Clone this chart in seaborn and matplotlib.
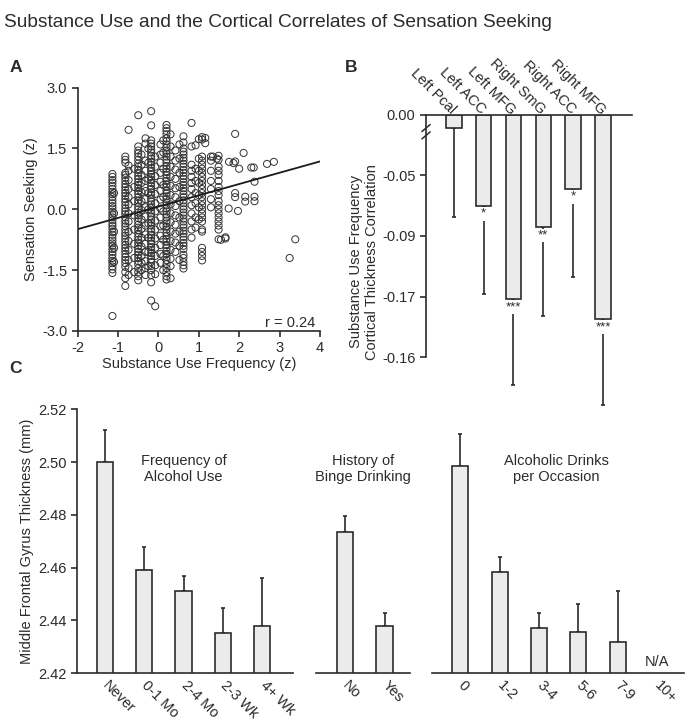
import matplotlib
matplotlib.use("Agg")
import matplotlib.pyplot as plt
import numpy as np
import pandas as pd
import seaborn as sns

sns.set_style("ticks")
plt.rcParams['font.family'] = ['Liberation Sans', 'DejaVu Sans']
ink = '#2b2b2b'
plt.rcParams.update({
    'axes.edgecolor': ink, 'axes.linewidth': 1.2, 'xtick.color': ink, 'ytick.color': ink,
    'text.color': ink, 'axes.labelcolor': ink, 'font.size': 10.5,
    'xtick.labelsize': 10.5, 'ytick.labelsize': 10.5, 'axes.labelsize': 10.5,
    'xtick.major.width': 1.2, 'ytick.major.width': 1.2,
    'xtick.major.size': 4, 'ytick.major.size': 4,
    'axes.unicode_minus': False,
})
bar_fill = '#ebebeb'

# ---- panel A: scatter columns (x value, y values) ----
col_x = [-1.14, -1.10, -0.82, -0.74, -0.50, -0.42, -0.32, -0.18, -0.08, 0.05,
         0.20, 0.30, 0.42, 0.62, 0.82, 0.92, 1.00, 1.08, 1.30, 1.49,
         -0.60, -0.25, 0.12, 0.52]
col_y = [
    [0.87, 0.8, 0.72, 0.66, 0.58, 0.5, 0.43, 0.37, 0.3, 0.22, 0.15, 0.08, 0.02, -0.06, -0.13, -0.2,
     -0.27, -0.35, -0.41, -0.48, -0.56, -0.63, -0.7, -0.77, -0.84, -0.9, -0.98, -1.05, -1.12, -1.2,
     -1.27, -1.33, -1.41, -1.48, -1.57, -2.63],
    [0.4, -0.1, -0.55, -0.95, -1.3],
    [1.3, 1.22, 1.15, 0.9, 0.85, 0.78, 0.7, 0.62, 0.55, 0.47, 0.4, 0.33, 0.25, 0.18, 0.1, 0.02,
     -0.05, -0.12, -0.2, -0.28, -0.35, -0.42, -0.5, -0.58, -0.65, -0.72, -0.8, -0.88, -0.95, -1.02,
     -1.1, -1.18, -1.25, -1.33, -1.42, -1.55, -1.7, -1.89],
    [1.96, 1.08, 0.95, 0.72, 0.5, 0.3, 0.12, -0.1, -0.3, -0.55, -0.78, -1.0, -1.25, -1.45, -1.62],
    [2.32, 1.55, 1.45, 1.38, 1.3, 1.22, 1.13, 1.05, 0.97, 0.9, 0.82, 0.75, 0.67, 0.6, 0.52, 0.45,
     0.38, 0.3, 0.22, 0.15, 0.07, 0.0, -0.08, -0.15, -0.22, -0.3, -0.38, -0.45, -0.52, -0.6, -0.68,
     -0.75, -0.82, -0.9, -0.98, -1.05, -1.12, -1.2, -1.28, -1.35, -1.45, -1.55, -1.65, -1.75],
    [1.35, 1.1, 0.85, 0.65, 0.42, 0.2, -0.02, -0.25, -0.48, -0.7, -0.92, -1.15, -1.32, -1.5],
    [1.75, 1.62, 1.2, 0.95, 0.7, 0.45, 0.25, 0.05, -0.18, -0.4, -0.62, -0.85, -1.05, -1.28, -1.45, -1.62],
    [2.42, 2.07, 1.7, 1.62, 1.55, 1.47, 1.4, 1.32, 1.25, 1.17, 1.1, 1.02, 0.95, 0.87, 0.8, 0.72,
     0.65, 0.57, 0.5, 0.42, 0.35, 0.27, 0.2, 0.12, 0.05, -0.03, -0.1, -0.18, -0.25, -0.33, -0.4,
     -0.48, -0.55, -0.63, -0.7, -0.78, -0.85, -0.93, -1.0, -1.08, -1.15, -1.23, -1.3, -1.4, -1.5,
     -1.62, -1.8, -2.25],
    [1.3, 1.05, 0.82, 0.6, 0.38, 0.15, -0.05, -0.28, -0.5, -0.72, -0.95, -1.15, -1.38, -1.6, -2.39],
    [1.6, 1.35, 1.15, 0.9, 0.68, 0.46, 0.24, 0.02, -0.2, -0.42, -0.65, -0.88, -1.1, -1.32],
    [2.08, 2.0, 1.93, 1.85, 1.75, 1.68, 1.6, 1.52, 1.45, 1.37, 1.3, 1.22, 1.15, 1.07, 1.0, 0.92,
     0.85, 0.77, 0.7, 0.62, 0.55, 0.47, 0.4, 0.32, 0.25, 0.17, 0.1, 0.02, -0.05, -0.13, -0.2, -0.28,
     -0.35, -0.43, -0.5, -0.58, -0.65, -0.73, -0.8, -0.88, -0.95, -1.03, -1.1, -1.18, -1.25, -1.35,
     -1.45, -1.55, -1.65, -1.73],
    [1.85, 1.55, 1.3, 1.05, 0.8, 0.58, 0.35, 0.12, -0.1, -0.32, -0.55, -0.78, -1.0, -1.22, -1.4, -1.7],
    [1.45, 1.2, 0.98, 0.75, 0.52, 0.3, 0.08, -0.15, -0.38, -0.6, -0.82, -1.05],
    [1.8, 1.65, 1.5, 1.42, 1.35, 1.27, 1.2, 1.12, 1.05, 0.97, 0.9, 0.82, 0.75, 0.67, 0.6, 0.52,
     0.45, 0.37, 0.3, 0.22, 0.15, 0.07, 0.0, -0.08, -0.15, -0.23, -0.3, -0.38, -0.45, -0.53, -0.6,
     -0.68, -0.75, -0.83, -0.9, -0.98, -1.12, -1.2, -1.3, -1.38, -1.46],
    [2.13, 1.55, 1.1, 0.95, 0.8, 0.65, 0.5, 0.3, 0.1, -0.1, -0.3, -0.5, -0.7],
    [1.58, 1.0, 0.7, 0.4, 0.15, -0.2, -0.45],
    [1.73, 1.25, 0.95, 0.65, 0.35, 0.05, -0.25],
    [1.78, 1.72, 1.3, 1.2, 1.1, 1.0, 0.9, 0.8, 0.7, 0.6, 0.5, 0.4, 0.3, 0.2, 0.1, 0.0, -0.1, -0.2,
     -0.3, -0.5, -0.55, -0.95, -1.05, -1.15, -1.26],
    [1.3, 1.2, 0.95, 0.7, 0.5, 0.25, 0.05],
    [1.32, 1.22, 1.05, 0.95, 0.85, 0.7, 0.55, 0.45, 0.35, 0.2, 0.1, 0.0, -0.1, -0.2, -0.3, -0.4,
     -0.5, -0.74],
    [1.0, 0.55, 0.2, -0.15, -0.5, -0.85, -1.2, -1.55],
    [1.5, 1.15, 0.75, 0.4, 0.0, -0.35, -0.7, -1.05, -1.4],
    [1.7, 1.4, 1.0, 0.6, 0.3, -0.05, -0.4, -0.75, -1.15, -1.5],
    [1.6, 1.25, 0.9, 0.55, 0.2, -0.2, -0.55, -0.9, -1.25],
]
extra_x = [1.66, 1.74, 1.97, 1.90, 1.86, 1.90, 1.90, 2.11, 2.00, 2.36, 2.15, 2.15, 2.38, 2.38,
           2.38, 2.30, 2.69, 2.86, 3.39, 3.25, 1.55, 1.66, 1.75, 1.90, 1.35, 1.45, 1.16, 1.16]
extra_y = [-0.69, 0.02, -0.04, 1.86, 1.14, 0.40, 0.30, 1.39, 1.00, 1.03, 0.31, 0.19, 0.68, 0.31,
           0.20, 1.03, 1.12, 1.17, -0.74, -1.20, -0.75, -0.72, 1.17, 1.18, 1.30, 1.25, 1.76, 1.63]
fit_x = [-2.0, 4.0]
fit_y = [-0.49, 1.18]
r_text = "r = 0.24"

# ---- panel B ----
b_regions = ["Left Pcal", "Left ACC", "Left MFG", "Right SmG", "Right ACC", "Right MFG"]
b_vals = [-0.21, -1.50, -3.04, -1.86, -1.22, -3.37]     # in axis units (tick spacing = 1)
b_err = [1.47, 1.46, 1.42, 1.46, 1.46, 1.42]
b_stars = ["", "*", "***", "**", "*", "***"]
b_ticks = [0, -1, -2, -3, -4]
b_ticklabels = ["0.00", "-0.05", "-0.09", "-0.17", "-0.16"]

# ---- panel C ----
freq_cats = ["Never", "0-1 Mo", "2-4 Mo", "2-3 Wk", "4+ Wk"]
freq_vals = [2.500, 2.459, 2.451, 2.4353, 2.438]
freq_err = [0.012, 0.009, 0.006, 0.0096, 0.018]
binge_cats = ["No", "Yes"]
binge_vals = [2.4734, 2.438]
binge_err = [0.0061, 0.0048]
drinks_cats = ["0", "1-2", "3-4", "5-6", "7-9", "10+"]
drinks_vals = [2.4985, 2.4583, 2.437, 2.4358, 2.432, np.nan]
drinks_err = [0.012, 0.0059, 0.006, 0.0104, 0.0192, np.nan]

fig = plt.figure(figsize=(7.0, 7.22), dpi=100)

# ================= A =================
axA = fig.add_axes([0.111, 0.5416, 0.346, 0.337])
xs, ys = [], []
for cx, cy in zip(col_x, col_y):
    xs += [cx] * len(cy)
    ys += cy
xs += extra_x
ys += extra_y
dfA = pd.DataFrame({'x': xs, 'y': ys})
sns.scatterplot(data=dfA, x='x', y='y', ax=axA, s=26, facecolor='none',
                edgecolor='#333333', linewidth=0.7, zorder=3)
sns.lineplot(x=fit_x, y=fit_y, ax=axA, color='#1a1a1a', linewidth=1.3, zorder=4)
axA.set_xlim(-2, 4)
axA.set_ylim(-3, 3)
axA.set_xticks([-2, -1, 0, 1, 2, 3, 4])
axA.set_yticks([3.0, 1.5, 0.0, -1.5, -3.0])
axA.set_yticklabels(["3.0", "1.5", "0.0", "-1.5", "-3.0"])
axA.set_xlabel("Substance Use Frequency (z)", labelpad=1)
axA.set_ylabel("Sensation Seeking (z)", labelpad=3)
axA.text(3.27, -2.8, r_text, ha='center', va='center')
sns.despine(ax=axA)
for sp in axA.spines.values():
    sp.set_clip_on(False)

# ================= B =================
axB = fig.add_axes([0.6086, 0.434, 0.2943, 0.407])
dfB = pd.DataFrame({'region': b_regions, 'val': b_vals})
sns.barplot(data=dfB, x='region', y='val', ax=axB, order=b_regions, errorbar=None,
            color=bar_fill, saturation=1, width=0.52, edgecolor=ink, linewidth=1.2, zorder=2)
pos = np.arange(len(b_regions))
axB.errorbar(pos, b_vals, yerr=[b_err, [0] * len(b_err)], fmt='none', ecolor=ink,
             elinewidth=1.2, capsize=1.5, capthick=1.2, zorder=1)
for p, v, st in zip(pos, b_vals, b_stars):
    if st:
        axB.annotate(st, (p, v), xytext=(0, -1.5), textcoords='offset points', ha='center',
                     va='top', fontsize=9.5,
                     bbox=dict(facecolor='white', edgecolor='none', pad=0.6), zorder=5)
axB.set_xlim(-0.93, 5.97)
axB.set_ylim(-4.85, 0)
axB.set_yticks(b_ticks)
axB.set_yticklabels(b_ticklabels)
axB.xaxis.tick_top()
axB.tick_params(axis='x', length=0, pad=2)
axB.set_xticks(pos)
axB.set_xticklabels(b_regions, rotation=-45, ha='right', va='center', rotation_mode='anchor')
axB.set_xlabel("")
axB.set_ylabel("Substance Use Frequency\nCortical Thickness Correlation", labelpad=2)
axB.spines['bottom'].set_visible(False)
axB.spines['right'].set_visible(False)
axB.spines['left'].set_bounds(-4, 0)
# axis break mark
for yy in (0.93, 0.955):
    axB.plot([-0.02, 0.02], [yy - 0.012, yy + 0.012], transform=axB.transAxes,
             color=ink, linewidth=1.1, clip_on=False, zorder=6)

# ================= C =================
groups = [
    (freq_cats, freq_vals, freq_err, [0.1096, 0.06745, 0.3086, 0.3657], (-0.71, 4.77),
     "Frequency of\nAlcohol Use", 2.0),
    (binge_cats, binge_vals, binge_err, [0.4514, 0.06745, 0.1343, 0.3657], (-0.73, 1.64),
     "History of\nBinge Drinking", 0.46),
    (drinks_cats, drinks_vals, drinks_err, [0.6176, 0.06745, 0.3596, 0.3657], (-0.71, 5.69),
     "Alcoholic Drinks\nper Occasion", 2.45),
]
for i, (cats, vals, errs, rect, xl, title, tx) in enumerate(groups):
    ax = fig.add_axes(rect)
    df = pd.DataFrame({'cat': cats, 'val': vals})
    sns.barplot(data=df, x='cat', y='val', ax=ax, order=cats, errorbar=None,
                color=bar_fill, saturation=1, width=0.41, edgecolor=ink, linewidth=1.2, zorder=2)
    p = np.arange(len(cats))
    ax.errorbar(p, vals, yerr=[[0] * len(errs), errs], fmt='none', ecolor=ink,
                elinewidth=1.2, capsize=1.5, capthick=1.2, zorder=1)
    ax.set_ylim(2.42, 2.52)
    ax.set_xlim(*xl)
    ax.set_xticks(p)
    ax.set_xticklabels(cats, rotation=-45, ha='left', va='center', rotation_mode='anchor')
    ax.tick_params(axis='x', length=0, pad=7)
    ax.set_xlabel("")
    ax.text(tx, 2.4974, title, ha='center', va='center', linespacing=1.15)
    ax.spines['top'].set_visible(False)
    ax.spines['right'].set_visible(False)
    if i == 0:
        ax.set_yticks([2.42, 2.44, 2.46, 2.48, 2.50, 2.52])
        ax.set_yticklabels(["2.42", "2.44", "2.46", "2.48", "2.50", "2.52"])
        ax.set_ylabel("Middle Frontal Gyrus Thickness (mm)", labelpad=3)
    else:
        ax.spines['left'].set_visible(False)
        ax.set_yticks([])
        ax.set_ylabel("")
    if i == 2:
        ax.text(5, 2.4215, "N/A", ha='center', va='bottom')

fig.text(0.006, 0.9695, "Substance Use and the Cortical Correlates of Sensation Seeking",
         fontsize=13.8, ha='left', va='center')
fig.text(0.013, 0.906, "A", fontsize=12.5, fontweight='bold', va='center')
fig.text(0.493, 0.907, "B", fontsize=12.5, fontweight='bold', va='center')
fig.text(0.013, 0.49, "C", fontsize=12.5, fontweight='bold', va='center')

fig.savefig("out.png", dpi=100)
